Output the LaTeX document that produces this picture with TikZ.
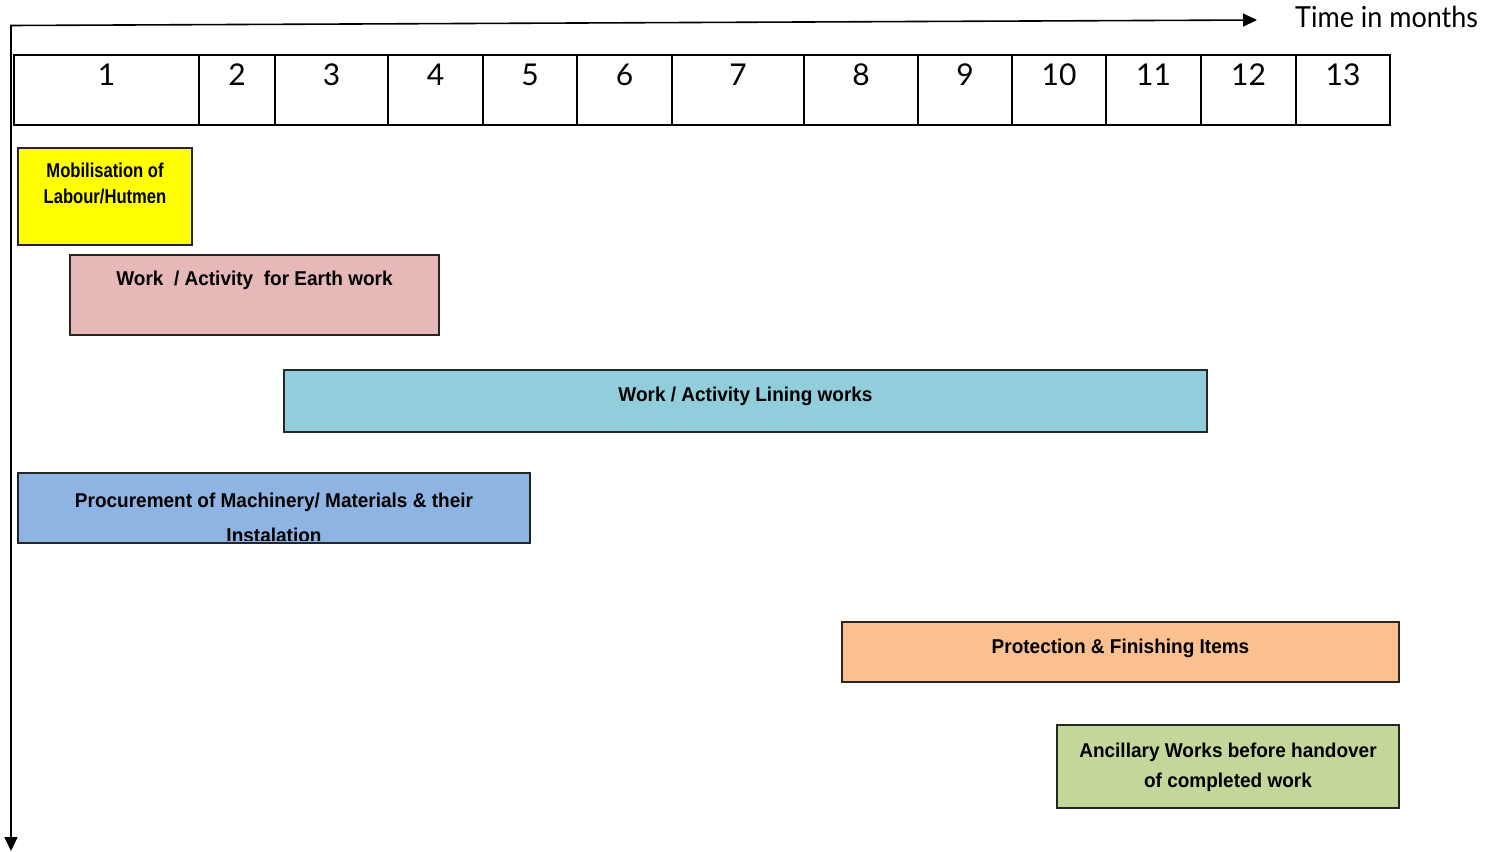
\documentclass[tikz,border=0pt]{standalone}
\usepackage{fontspec}
\setmainfont{Liberation Sans}
\newfontfamily\lblfont[FakeStretch=0.95]{Liberation Sans}
\newfontfamily\lblnarrowfont[FakeStretch=0.83]{Liberation Sans}
\newfontfamily\numfont{Lato}
\newfontfamily\ttlfont[FakeStretch=0.93]{Lato}
\usetikzlibrary{arrows.meta}
\definecolor{cyel}{HTML}{FFFF00}
\definecolor{cpink}{HTML}{E6B8B7}
\definecolor{ccyan}{HTML}{92CDDC}
\definecolor{cblue}{HTML}{8DB4E2}
\definecolor{corange}{HTML}{FAC090}
\definecolor{cgreen}{HTML}{C4D79B}
\tikzset{
  axis/.style={line width=1.6pt, {Triangle[length=14pt,width=13pt]}-{Triangle[length=14pt,width=13pt]}},
  cell/.style={draw=black, line width=1.8pt, inner sep=0pt, outer sep=0pt, anchor=north west, minimum height=70pt},
  num/.style={font=\numfont\fontsize{30}{36}\selectfont, inner sep=0pt, anchor=base},
  bar/.style={draw=black!85, line width=1.5pt, inner sep=0pt, outer sep=0pt, anchor=north west},
  lbl/.style={font=\lblfont\bfseries\fontsize{20}{24}\selectfont, inner sep=0pt, anchor=base},
  lblnarrow/.style={font=\lblnarrowfont\bfseries\fontsize{20}{24}\selectfont, inner sep=0pt, anchor=base},
  ttl/.style={font=\ttlfont\fontsize{29}{34}\selectfont, inner sep=0pt, anchor=base west}
}
\begin{document}
\begin{tikzpicture}[x=1pt,y=-1pt]
\useasboundingbox (0,0) rectangle (1485,851);
% axes
\coordinate (o) at (11,25.5);
\coordinate (tx) at (1257,20);
\coordinate (ty) at (11,851);
\draw[axis] (tx) -- (o) -- (ty);
\node[ttl] (title) at (1295,28) {Time in months};
% month grid
\foreach \a/\b/\n in {14/199/1,199/275/2,275/388/3,388/483/4,483/577/5,577/672/6,672/804/7,804/918/8,918/1012/9,1012/1106/10,1106/1201/11,1201/1296/12,1296/1390/13}{
  \node[cell, minimum width={(\b-\a)*1pt}] (c\n) at (\a,55) {};
  \node[num] (n\n) at ({(\a+\b)/2},85) {\n};
}
% bars
\node[bar, fill=cyel, minimum width=174pt, minimum height=97pt] (mob) at (18,148) {};
\node[lblnarrow] (mobA) at (105,177) {Mobilisation of};
\node[lblnarrow] (mobB) at (105,203.5) {Labour/Hutmen};

\node[bar, fill=cpink, minimum width=369pt, minimum height=80pt] (earth) at (70,255) {};
\node[lbl] (earthT) at (254.5,285) {Work\ \ / Activity\ \ for Earth work};

\node[bar, fill=ccyan, minimum width=923pt, minimum height=62pt] (lining) at (284,370) {};
\node[lbl] (liningT) at (745.5,401) {Work / Activity Lining works};

\node[bar, fill=cblue, minimum width=512pt, minimum height=70pt] (proc) at (18,473) {};
\node[lbl] (procA) at (274,507) {Procurement of Machinery/ Materials \& their};
\begin{scope}
  \clip (19,474) rectangle (529,540.5);
  \node[lbl] (procB) at (274,542) {Instalation};
\end{scope}

\node[bar, fill=corange, minimum width=557pt, minimum height=60pt] (prot) at (842,622) {};
\node[lbl] (protT) at (1120.5,653) {Protection \& Finishing Items};

\node[bar, fill=cgreen, minimum width=342pt, minimum height=83pt] (anc) at (1057,725) {};
\node[lbl] (ancA) at (1228,757) {Ancillary Works before handover};
\node[lbl] (ancB) at (1228,787) {of completed work};
\end{tikzpicture}
\end{document}
